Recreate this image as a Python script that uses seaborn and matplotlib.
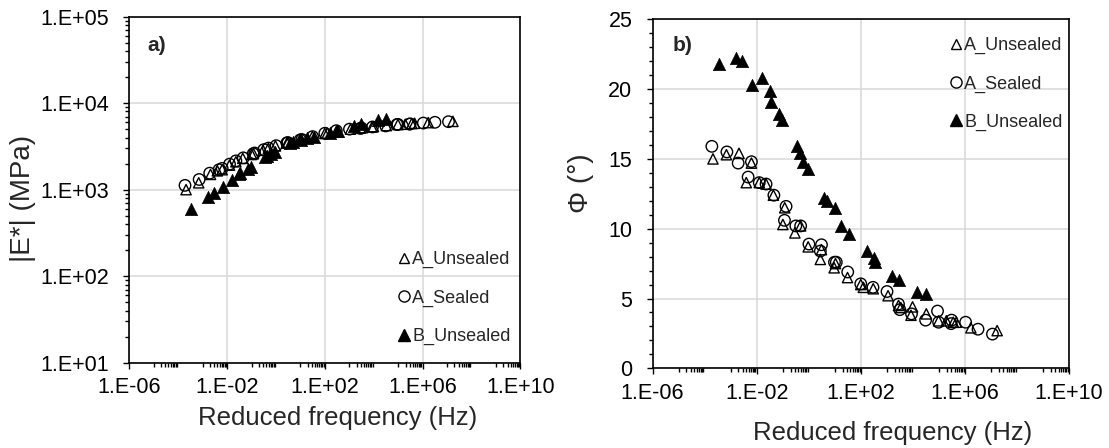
import numpy as np
import pandas as pd
import matplotlib
matplotlib.use("Agg")
import matplotlib.pyplot as plt
import seaborn as sns
from matplotlib.ticker import FixedLocator, FixedFormatter, NullFormatter
from matplotlib.lines import Line2D

# ---------------- data ----------------
series_names = ["A_Unsealed", "A_Sealed", "B_Unsealed"]

freq_A_unsealed = [2.1e-4, 6.9e-4, 2.1e-3, 6.3e-3, 4.0e-3, 1.26e-2, 2.3e-2, 4.4e-2,
                   0.12, 0.102, 0.295, 0.49, 0.955, 2.8, 3.1, 9.5, 10.7, 31,
                   100, 126, 302, 1120, 2820, 3470, 8500, 9800, 3.3e4, 9.8e4,
                   1.95e5, 3.6e5, 4.7e5, 1.7e6, 1.74e7]
E_A_unsealed = [1000, 1200, 1500, 1700, 1650, 1920, 2100, 2300,
                2600, 2550, 2850, 3000, 3200, 3450, 3500, 3750, 3800, 4100,
                4450, 4500, 4750, 5000, 5150, 5200, 5300, 5350, 5500, 5650,
                5700, 5800, 5850, 5950, 6150]
phi_A_unsealed = [15.0, 15.3, 15.4, 14.7, 13.3, 13.3, 13.2, 12.4,
                  11.5, 10.3, 9.7, 10.2, 8.7, 7.8, 8.5, 7.2, 7.5, 6.5,
                  6.0, 5.8, 5.7, 5.2, 4.5, 4.35, 3.8, 4.4, 3.9, 3.4,
                  3.4, 3.3, 3.3, 2.9, 2.7]

freq_A_sealed = [1.9e-4, 7.2e-4, 1.95e-3, 6.3e-3, 4.7e-3, 1.26e-2, 2.3e-2, 4.6e-2,
                 0.135, 0.117, 0.32, 0.49, 1.02, 3.1, 2.8, 9.8, 11.5, 31.6,
                 100, 295, 1020, 2820, 3160, 8900, 3.1e4, 8.9e4, 9.8e4,
                 2.95e5, 3.1e5, 1.07e6, 3.2e6, 1.15e7]
E_A_sealed = [1120, 1310, 1550, 1760, 1700, 1970, 2150, 2330,
              2650, 2600, 2900, 3020, 3220, 3500, 3470, 3760, 3800, 4100,
              4480, 4800, 5000, 5100, 5150, 5300, 5450, 5650, 5680,
              5720, 5750, 5880, 6000, 6100]
phi_A_sealed = [15.9, 15.5, 14.7, 14.8, 13.7, 13.3, 13.2, 12.4,
                11.6, 10.6, 10.2, 10.2, 8.9, 8.85, 8.4, 7.6, 7.6, 6.9,
                6.05, 5.8, 5.5, 4.6, 4.2, 3.9, 3.45, 4.1, 3.3,
                3.2, 3.45, 3.3, 2.8, 2.45]

freq_B_unsealed = [3.5e-4, 1.6e-3, 2.8e-3, 6.8e-3, 1.55e-2, 3.2e-2, 3.5e-2, 7.4e-2,
                   9.8e-2, 0.355, 0.447, 0.60, 0.955, 3.9, 5.2, 10.5, 18.2, 35.5,
                   170, 324, 347, 1620, 3020, 1.48e4, 3.24e4]
E_B_unsealed = [600, 830, 910, 1060, 1290, 1520, 1560, 1740,
                1820, 2400, 2480, 2560, 2750, 3430, 3560, 3750, 3900, 4100,
                4550, 4750, 4800, 5500, 5700, 6350, 6500]
phi_B_unsealed = [21.8, 22.2, 22.0, 20.3, 20.8, 19.9, 19.1, 18.2,
                  17.8, 15.9, 15.4, 14.8, 14.3, 12.2, 12.0, 11.5, 10.2, 9.6,
                  8.4, 7.9, 7.6, 6.6, 6.3, 5.5, 5.3]

x_major_ticks = [1e-6, 1e-2, 1e2, 1e6, 1e10]
x_tick_labels = ["1.E-06", "1.E-02", "1.E+02", "1.E+06", "1.E+10"]
E_major_ticks = [1e1, 1e2, 1e3, 1e4, 1e5]
E_tick_labels = ["1.E+01", "1.E+02", "1.E+03", "1.E+04", "1.E+05"]
phi_major_ticks = [0, 5, 10, 15, 20, 25]
phi_tick_labels = ["0", "5", "10", "15", "20", "25"]

# ---------------- style ----------------
sns.set_style("ticks")
plt.rcParams["font.family"] = ["Liberation Sans", "DejaVu Sans"]

TICK_FS = 15.5
XLABEL_FS = 18.5
YLABEL_FS = 20
LEG_FS = 13
GRID_C = "#d9d9d9"

fig = plt.figure(figsize=(11.09, 4.48), dpi=100)
axL = fig.add_axes([0.1166, 0.1904, 0.3526, 0.7726])
axR = fig.add_axes([0.5884, 0.1779, 0.3755, 0.7790])

sty = {
    "A_Unsealed": dict(marker="^", s=55, facecolors="none", edgecolor="black", linewidth=1.0),
    "A_Sealed": dict(marker="o", s=68, facecolors="none", edgecolor="black", linewidth=1.0),
    "B_Unsealed": dict(marker="^", s=78, color="black", edgecolor="black", linewidth=0.5),
}

def draw(ax, ydata):
    for name, fr, yv in zip(series_names,
                            [freq_A_unsealed, freq_A_sealed, freq_B_unsealed], ydata):
        df = pd.DataFrame({"f": fr, "y": yv})
        sns.scatterplot(data=df, x="f", y="y", ax=ax, legend=False, zorder=3, **sty[name])

draw(axL, [E_A_unsealed, E_A_sealed, E_B_unsealed])
draw(axR, [phi_A_unsealed, phi_A_sealed, phi_B_unsealed])

odd_decades = [k * 10.0 ** n for n in range(-5, 10, 2) for k in range(1, 10)]

for ax in (axL, axR):
    ax.set_xscale("log")
    ax.set_xlim(1e-6, 1e10)
    ax.xaxis.set_major_locator(FixedLocator(x_major_ticks))
    ax.xaxis.set_major_formatter(FixedFormatter(x_tick_labels))
    ax.xaxis.set_minor_locator(FixedLocator(odd_decades))
    ax.xaxis.set_minor_formatter(NullFormatter())
    ax.grid(True, which="major", color=GRID_C, linewidth=1.1, zorder=0)
    ax.set_axisbelow(True)
    for sp in ax.spines.values():
        sp.set_visible(True)
        sp.set_color("black")
        sp.set_linewidth(1.2)
    ax.tick_params(axis="both", which="major", direction="out", length=4.5, width=1,
                   labelsize=TICK_FS, colors="black")
    ax.tick_params(axis="both", which="minor", direction="out", length=3, width=1,
                   colors="black")
    ax.tick_params(axis="x", which="major", pad=6)
    ax.tick_params(axis="y", which="major", pad=10)
    ax.tick_params(top=False, right=False, which="both")
    ax.set_xlabel("")
    ax.set_ylabel("")

axL.set_yscale("log")
axL.set_ylim(1e1, 1e5)
axL.yaxis.set_major_locator(FixedLocator(E_major_ticks))
axL.yaxis.set_major_formatter(FixedFormatter(E_tick_labels))
axL.yaxis.set_minor_locator(FixedLocator([k * 10.0 ** n for n in range(1, 5) for k in range(2, 10)]))
axL.yaxis.set_minor_formatter(NullFormatter())

axR.set_ylim(0, 25)
axR.yaxis.set_major_locator(FixedLocator(phi_major_ticks))
axR.yaxis.set_major_formatter(FixedFormatter(phi_tick_labels))
axR.yaxis.set_minor_locator(FixedLocator(list(range(0, 26))))
axR.yaxis.set_minor_formatter(NullFormatter())

# legends
handles = [
    Line2D([], [], linestyle="none", marker="^", markersize=6.5, markerfacecolor="none",
           markeredgecolor="black", markeredgewidth=1.0),
    Line2D([], [], linestyle="none", marker="o", markersize=8.0, markerfacecolor="none",
           markeredgecolor="black", markeredgewidth=1.0),
    Line2D([], [], linestyle="none", marker="^", markersize=8.8, markerfacecolor="black",
           markeredgecolor="black"),
]
leg_kw = dict(frameon=False, fontsize=LEG_FS, handlelength=0.7, handletextpad=0.1,
              labelspacing=1.17, borderpad=0, borderaxespad=0)
axL.legend(handles, series_names, loc="lower right", bbox_to_anchor=(0.975, 0.051), **leg_kw)
axR.legend(handles, series_names, loc="upper right", bbox_to_anchor=(0.985, 0.949), **leg_kw)

# panel letters
axL.text(0.045, 0.915, "a)", transform=axL.transAxes, fontsize=15, fontweight="bold",
         ha="left", va="center")
axR.text(0.047, 0.924, "b)", transform=axR.transAxes, fontsize=15, fontweight="bold",
         ha="left", va="center")

# axis titles
W, H = 1109, 448
fig.text(338 / W, 1 - 418 / H, "Reduced frequency (Hz)", fontsize=XLABEL_FS, ha="center", va="center")
fig.text(893 / W, 1 - 433 / H, "Reduced frequency (Hz)", fontsize=XLABEL_FS, ha="center", va="center")
fig.text(23 / W, 1 - 198 / H, "|E*| (MPa)", fontsize=YLABEL_FS, ha="center", va="center", rotation=90)
fig.text(581 / W, 1 - 183 / H, "Φ (°)", fontsize=YLABEL_FS, ha="center", va="center", rotation=90)

fig.savefig("out.png", dpi=100, facecolor="white")
